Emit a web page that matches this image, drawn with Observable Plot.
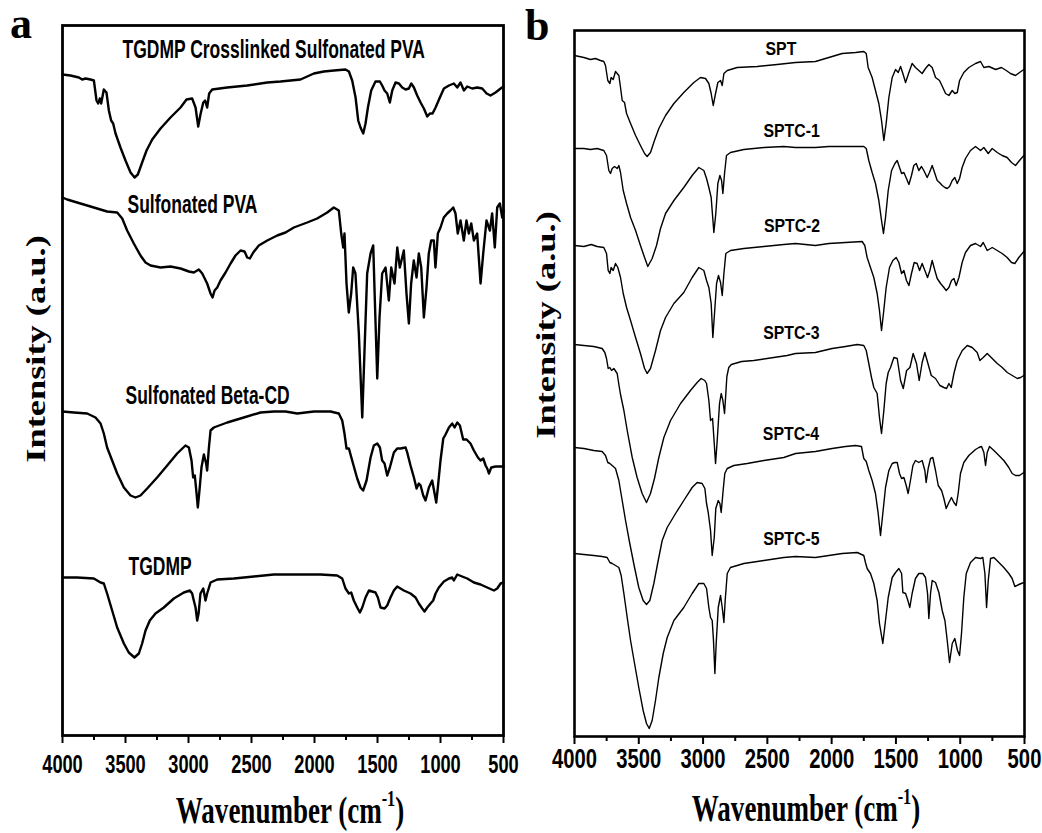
<!DOCTYPE html>
<html>
<head>
<meta charset="utf-8">
<script src="https://cdn.jsdelivr.net/npm/d3@7"></script>
<script src="https://cdn.jsdelivr.net/npm/@observablehq/plot@0.6"></script>
<style>
  html, body { margin: 0; padding: 0; background: #fff; }
  #wrap { position: relative; width: 1042px; height: 833px; overflow: hidden; background: #fff; }
  .panel { position: absolute; top: 0; }
  .serif { position: absolute; font-family: "Liberation Serif", "Times New Roman", Times, serif; font-weight: bold; color: #000; line-height: 1.1; white-space: nowrap; }
  .letter { font-size: 44px; }
  .ytitle { font-size: 28px; transform: translate(-50%, -50%) rotate(-90deg) scaleX(1.3); }
  .xtitle { font-size: 37px; transform: translateX(-50%) scaleX(0.73); }
  .xtitle sup { font-size: 0.6em; vertical-align: 0; position: relative; top: -0.75em; line-height: 0; }
</style>
</head>
<body>
<div id="wrap">
  <div class="panel" id="panelA" style="left:0px"></div>
  <div class="panel" id="panelB" style="left:520px"></div>
  <div class="serif letter" style="left:10px; top:0px">a</div>
  <div class="serif letter" style="left:525px; top:2px">b</div>
  <div class="serif ytitle" style="left:36px; top:349px">Intensity (a.u.)</div>
  <div class="serif ytitle" style="left:546px; top:325px">Intensity (a.u.)</div>
  <div class="serif xtitle" style="left:290px; top:791px">Wavenumber (cm<sup>-1</sup>)</div>
  <div class="serif xtitle" style="left:806px; top:789px">Wavenumber (cm<sup>-1</sup>)</div>
</div>
<script>
// ---------- Axis ticks (cm^-1) ----------
const majorTicks = [4000, 3500, 3000, 2500, 2000, 1500, 1000, 500];
const minorTicks = [3750, 3250, 2750, 2250, 1750, 1250, 750];

// ---------- Panel a spectra: [wavenumber, intensity (a.u., stacked)] ----------
const crosslinkedSPVA = [[4000,66.1],[3937,66.0],[3870,65.8],[3844,65.6],[3817,65.7],[3778,65.6],[3751,65.5],[3730,63.5],[3717,63.2],[3704,63.7],[3693,63.2],[3672,64.6],[3651,64.3],[3632,62.5],[3614,61.5],[3598,61.2],[3579,60.2],[3540,58.8],[3500,57.5],[3460,56.3],[3428,55.8],[3402,56.1],[3368,57.3],[3333,58.5],[3288,59.6],[3222,60.7],[3143,61.8],[3063,62.8],[3016,63.6],[2971,63.7],[2944,62.8],[2923,60.9],[2905,62.1],[2883,63.3],[2868,63.5],[2852,62.8],[2836,64.2],[2812,64.6],[2693,64.8],[2534,65.0],[2375,65.3],[2270,65.4],[2111,65.6],[2005,66.2],[1926,66.4],[1846,66.5],[1754,66.6],[1727,66.4],[1701,65.5],[1674,63.8],[1653,61.5],[1635,60.8],[1613,60.2],[1595,61.2],[1576,62.8],[1550,64.5],[1516,65.4],[1481,65.4],[1463,65.0],[1444,64.5],[1423,64.2],[1402,63.3],[1383,64.5],[1357,65.3],[1330,65.2],[1304,64.8],[1277,64.6],[1251,64.7],[1232,65.2],[1211,64.8],[1185,64.0],[1158,63.3],[1132,62.7],[1105,61.9],[1084,62.2],[1063,62.2],[1039,62.8],[1005,63.8],[973,64.7],[933,65.0],[894,65.2],[867,64.8],[841,65.3],[814,64.5],[788,64.9],[748,64.7],[709,64.8],[669,64.7],[634,64.2],[603,64.0],[563,64.3],[523,64.7],[500,64.9]];

const sulfonatedPVA = [[4000,53.8],[3963,53.6],[3884,53.3],[3804,53.0],[3725,52.7],[3646,52.4],[3566,52.3],[3526,51.7],[3487,50.5],[3434,49.2],[3381,48.0],[3341,47.3],[3301,47.0],[3222,46.8],[3143,46.9],[3063,46.7],[2997,46.4],[2958,46.3],[2918,46.6],[2891,46.2],[2852,45.2],[2825,44.2],[2809,43.8],[2793,44.5],[2772,44.8],[2746,45.5],[2706,46.3],[2666,47.2],[2627,48.0],[2587,48.5],[2555,48.4],[2534,47.8],[2513,47.7],[2486,48.3],[2442,49.0],[2375,49.5],[2296,50.0],[2230,50.3],[2164,50.8],[2058,51.3],[1979,51.7],[1939,52.0],[1899,52.3],[1847,52.8],[1807,52.5],[1788,50.2],[1772,48.8],[1762,50.2],[1746,45.2],[1728,42.3],[1709,44.2],[1693,46.8],[1675,46.2],[1648,40.2],[1621,31.8],[1603,38.5],[1582,46.2],[1555,48.2],[1534,49.0],[1521,43.5],[1502,35.7],[1484,41.8],[1463,46.2],[1436,46.8],[1410,43.5],[1391,46.8],[1365,45.2],[1343,48.8],[1323,46.8],[1291,48.5],[1270,44.2],[1251,41.2],[1233,45.2],[1212,47.5],[1190,45.8],[1172,48.2],[1153,46.8],[1132,41.8],[1111,44.8],[1093,48.2],[1074,49.5],[1053,49.5],[1040,46.8],[1021,50.2],[1000,50.8],[974,51.8],[947,52.2],[921,52.5],[899,52.8],[881,52.2],[863,50.2],[841,51.5],[815,49.5],[794,51.5],[775,50.2],[756,51.2],[735,49.5],[709,50.2],[682,45.2],[661,48.2],[635,51.5],[608,50.5],[590,52.2],[569,48.8],[550,52.8],[529,53.2],[510,51.8],[500,52.5]];

const sulfonatedBetaCD = [[4000,32.4],[3910,32.3],[3804,32.2],[3738,31.8],[3698,31.2],[3672,30.2],[3646,28.8],[3606,27.5],[3566,26.2],[3513,24.8],[3460,24.0],[3421,23.8],[3381,24.0],[3328,24.7],[3249,25.8],[3169,27.0],[3090,28.2],[3024,29.0],[2997,28.8],[2976,27.5],[2963,25.8],[2950,26.0],[2936,24.2],[2926,22.8],[2913,24.5],[2897,26.8],[2878,28.1],[2860,27.2],[2852,26.5],[2838,28.8],[2825,30.5],[2799,30.8],[2693,31.3],[2561,31.8],[2428,32.3],[2323,32.4],[2230,32.4],[2137,32.2],[2005,32.4],[1873,32.4],[1807,32.2],[1780,31.5],[1762,30.2],[1746,28.7],[1727,28.7],[1701,27.5],[1661,25.7],[1635,24.8],[1614,24.5],[1587,25.5],[1555,27.8],[1529,29.0],[1502,29.2],[1481,28.8],[1463,27.5],[1444,27.2],[1423,26.0],[1402,26.8],[1370,28.3],[1344,28.7],[1317,28.7],[1277,28.8],[1264,28.3],[1238,27.0],[1211,25.8],[1190,24.7],[1172,25.2],[1158,25.0],[1137,24.0],[1119,23.5],[1092,24.8],[1066,25.5],[1047,24.2],[1034,23.3],[1021,24.8],[1000,27.5],[978,29.7],[960,30.1],[933,30.8],[907,31.2],[888,30.8],[867,31.3],[846,31.0],[820,29.6],[793,29.6],[762,29.2],[735,28.5],[703,27.8],[682,27.5],[661,27.7],[642,27.0],[629,26.7],[616,26.2],[597,26.8],[563,26.9],[500,26.9]];

const tgdmp = [[4000,15.8],[3884,15.8],[3751,15.7],[3698,15.3],[3672,15.2],[3646,14.2],[3606,12.5],[3566,10.8],[3513,9.2],[3474,8.3],[3429,7.8],[3394,8.2],[3368,9.2],[3341,10.5],[3307,11.5],[3262,12.2],[3196,12.8],[3116,13.7],[3037,14.3],[2989,14.5],[2971,14.2],[2958,13.5],[2944,12.8],[2931,11.5],[2920,12.2],[2905,14.2],[2883,14.7],[2865,13.5],[2852,14.2],[2825,15.3],[2772,15.6],[2640,15.7],[2481,15.9],[2323,16.1],[2230,16.1],[2111,16.1],[1952,16.1],[1820,16.0],[1780,15.7],[1754,14.7],[1727,14.2],[1709,14.3],[1688,13.5],[1661,12.8],[1640,12.3],[1621,12.8],[1595,13.8],[1568,14.5],[1542,14.4],[1516,14.3],[1497,13.8],[1476,12.8],[1444,12.7],[1423,13.0],[1397,13.8],[1370,14.5],[1344,14.9],[1291,14.5],[1238,14.2],[1198,13.8],[1172,13.2],[1145,12.7],[1127,12.4],[1105,12.8],[1079,13.2],[1058,13.5],[1039,14.2],[1013,14.8],[973,15.4],[933,15.7],[907,15.8],[894,15.5],[867,16.1],[828,15.9],[788,15.7],[735,15.3],[682,15.1],[629,14.8],[576,14.5],[550,14.7],[523,15.2],[500,15.3]];

const labelsA = ["TGDMP Crosslinked Sulfonated PVA", "Sulfonated PVA", "Sulfonated Beta-CD", "TGDMP"];
const labelXA = [3524, 3484, 3500, 3476];
const labelYA = [68.6, 53.1, 34.0, 16.9];

// ---------- Panel b spectra ----------
const spt = [[4000,68.1],[3927,67.9],[3876,67.7],[3837,67.8],[3798,67.6],[3772,67.5],[3759,67.1],[3741,65.6],[3725,65.3],[3715,65.9],[3699,65.7],[3681,66.5],[3655,66.1],[3642,64.9],[3629,63.6],[3611,63.4],[3595,62.3],[3564,61.3],[3525,60.1],[3487,59.1],[3455,58.3],[3435,58.0],[3409,58.4],[3378,59.6],[3344,60.8],[3292,62.1],[3227,63.3],[3150,64.4],[3072,65.4],[3020,65.9],[2981,65.8],[2955,65.3],[2937,64.3],[2921,63.1],[2906,64.1],[2885,65.4],[2864,65.6],[2851,65.1],[2838,66.3],[2812,66.6],[2735,66.9],[2579,67.0],[2424,67.2],[2281,67.4],[2126,67.5],[2022,67.9],[1918,68.3],[1814,68.4],[1750,68.5],[1731,68.3],[1716,66.9],[1685,65.9],[1659,64.6],[1633,63.3],[1612,61.6],[1594,59.6],[1576,61.3],[1555,63.9],[1529,65.9],[1503,66.7],[1482,66.4],[1464,67.0],[1446,66.3],[1425,65.4],[1399,66.4],[1374,67.3],[1348,66.9],[1322,66.6],[1296,66.3],[1270,66.8],[1244,67.2],[1218,66.9],[1192,65.9],[1161,65.6],[1135,64.9],[1114,64.3],[1088,64.1],[1062,64.6],[1042,64.3],[1023,64.4],[1005,65.6],[972,66.4],[933,66.9],[881,67.3],[842,67.5],[816,66.9],[777,67.0],[725,66.7],[679,66.9],[642,66.6],[609,66.3],[570,66.1],[539,66.4],[505,66.7],[500,66.8]];

const sptc1 = [[4000,58.8],[3927,58.8],[3876,58.7],[3824,58.8],[3772,58.6],[3751,58.1],[3733,56.6],[3720,56.3],[3707,56.8],[3689,57.0],[3668,56.8],[3655,57.1],[3642,56.4],[3621,54.6],[3595,53.3],[3564,51.9],[3525,50.6],[3487,49.1],[3455,47.9],[3430,47.0],[3396,47.8],[3362,49.1],[3331,50.8],[3292,52.3],[3227,53.6],[3150,54.9],[3085,56.1],[3033,56.9],[2994,56.6],[2973,55.8],[2955,54.9],[2937,53.9],[2916,50.4],[2901,52.3],[2885,55.3],[2869,56.1],[2856,55.6],[2846,54.3],[2833,56.3],[2818,58.1],[2787,58.4],[2683,58.7],[2527,58.9],[2372,59.0],[2281,58.9],[2126,58.9],[2022,59.0],[1892,59.0],[1750,59.0],[1731,58.8],[1711,57.6],[1685,56.4],[1659,55.3],[1633,53.6],[1612,51.6],[1597,50.3],[1581,51.9],[1560,54.6],[1534,56.6],[1508,57.3],[1490,57.6],[1472,56.9],[1456,56.3],[1438,56.4],[1418,55.8],[1399,55.2],[1379,56.1],[1361,57.1],[1342,57.3],[1322,56.6],[1301,57.0],[1283,56.6],[1257,55.9],[1239,56.4],[1218,57.1],[1197,56.3],[1179,55.6],[1161,55.4],[1140,55.1],[1119,54.9],[1101,54.8],[1083,55.0],[1062,55.6],[1042,55.9],[1023,55.3],[1005,55.8],[985,56.9],[959,57.8],[920,58.6],[881,59.0],[842,58.6],[816,58.9],[782,58.3],[751,58.8],[712,58.4],[674,58.1],[635,57.9],[601,57.4],[570,57.1],[539,57.6],[505,58.1],[500,58.2]];

const sptc2 = [[4000,49.1],[3927,49.0],[3870,49.2],[3824,49.0],[3772,48.9],[3751,48.3],[3738,46.6],[3725,46.3],[3715,46.9],[3699,46.6],[3681,47.3],[3663,46.9],[3642,45.9],[3621,44.3],[3595,42.9],[3564,41.6],[3525,39.9],[3487,38.3],[3455,36.8],[3435,36.3],[3409,36.8],[3370,38.6],[3331,40.6],[3292,41.9],[3227,43.3],[3150,44.4],[3085,45.9],[3033,46.9],[2994,46.6],[2973,45.6],[2955,44.9],[2937,43.3],[2924,39.9],[2911,42.3],[2895,45.3],[2880,46.1],[2864,45.4],[2851,44.1],[2838,46.3],[2823,48.3],[2787,48.6],[2683,48.8],[2527,49.0],[2372,49.2],[2281,49.3],[2126,49.1],[2022,49.3],[1892,49.4],[1763,49.5],[1742,49.1],[1724,47.9],[1698,46.9],[1672,45.9],[1646,44.3],[1628,42.6],[1612,40.6],[1597,42.3],[1576,44.9],[1550,46.9],[1524,47.6],[1498,47.9],[1477,47.4],[1456,46.3],[1438,46.6],[1418,45.6],[1399,45.1],[1379,46.3],[1358,47.4],[1335,47.3],[1316,46.6],[1296,47.3],[1275,46.6],[1254,45.9],[1236,46.6],[1218,47.6],[1197,46.6],[1179,45.8],[1153,45.3],[1127,44.9],[1109,44.6],[1088,44.9],[1068,45.6],[1049,45.8],[1031,45.1],[1010,45.9],[985,47.4],[959,48.4],[920,49.1],[881,49.3],[842,49.0],[821,49.4],[790,48.6],[751,48.9],[712,48.6],[674,48.3],[635,47.9],[601,47.4],[575,47.3],[544,47.9],[505,48.5],[500,48.6]];

const sptc3 = [[4000,39.2],[3927,39.1],[3850,39.0],[3785,38.8],[3764,38.4],[3751,37.8],[3738,36.8],[3725,36.9],[3712,36.6],[3694,36.8],[3668,36.3],[3655,35.2],[3642,34.2],[3616,32.6],[3590,30.6],[3551,27.9],[3513,25.9],[3474,24.3],[3440,23.4],[3409,24.3],[3378,25.8],[3344,27.9],[3305,29.9],[3253,31.6],[3175,33.3],[3098,34.6],[3046,35.4],[3015,35.8],[2987,35.6],[2973,35.3],[2955,33.6],[2942,31.6],[2926,31.8],[2913,29.3],[2903,27.3],[2890,29.6],[2872,33.3],[2859,34.3],[2846,33.6],[2833,32.3],[2823,34.3],[2815,36.0],[2800,36.9],[2780,37.2],[2700,37.5],[2605,37.6],[2450,37.9],[2346,38.1],[2281,38.3],[2126,38.4],[1996,38.8],[1892,39.0],[1801,39.2],[1750,39.1],[1731,38.6],[1711,37.3],[1690,35.9],[1672,34.9],[1646,34.3],[1628,31.9],[1612,30.3],[1594,32.6],[1576,35.3],[1560,36.4],[1542,36.9],[1516,37.9],[1490,37.8],[1464,35.6],[1443,34.8],[1417,36.6],[1391,36.9],[1366,38.3],[1340,37.3],[1319,35.6],[1296,37.4],[1275,38.4],[1251,37.3],[1225,36.1],[1192,35.8],[1158,35.1],[1127,34.9],[1106,34.8],[1088,35.3],[1070,34.9],[1049,36.3],[1023,37.6],[984,38.6],[945,39.1],[907,38.9],[868,38.4],[847,37.6],[821,37.9],[790,38.3],[751,37.8],[712,37.3],[673,36.9],[634,36.4],[595,36.1],[556,35.8],[530,35.9],[505,36.1],[500,36.1]];

const sptc4 = [[4000,28.9],[3927,28.8],[3850,28.6],[3785,28.5],[3759,28.1],[3741,27.4],[3725,27.3],[3707,27.1],[3681,26.8],[3655,25.6],[3629,23.6],[3603,21.6],[3570,19.3],[3533,16.9],[3500,14.9],[3466,13.6],[3440,13.2],[3414,13.6],[3383,15.3],[3352,17.4],[3318,19.6],[3279,20.9],[3214,22.3],[3150,23.6],[3085,24.9],[3046,25.4],[3007,25.3],[2986,24.8],[2973,23.3],[2960,22.4],[2942,20.6],[2929,18.1],[2913,19.9],[2901,22.8],[2882,23.6],[2869,23.3],[2859,22.4],[2844,24.6],[2831,26.3],[2812,26.8],[2761,27.1],[2657,27.3],[2527,27.6],[2372,27.9],[2281,28.3],[2126,28.5],[1996,28.8],[1892,29.0],[1814,29.1],[1768,29.0],[1750,27.8],[1731,27.5],[1711,26.6],[1685,25.6],[1659,24.3],[1638,22.3],[1620,20.1],[1602,22.3],[1581,24.9],[1555,26.6],[1529,27.3],[1508,27.4],[1490,27.4],[1472,26.3],[1456,25.8],[1438,25.9],[1420,25.1],[1405,24.3],[1387,25.6],[1368,27.1],[1348,27.6],[1322,27.4],[1296,27.6],[1275,26.6],[1265,25.4],[1249,26.8],[1231,27.8],[1213,27.9],[1192,26.6],[1171,25.1],[1145,24.6],[1127,23.8],[1109,22.8],[1088,23.4],[1068,23.9],[1049,23.4],[1031,23.1],[1016,24.3],[998,26.3],[972,27.4],[933,28.1],[881,28.7],[855,28.9],[834,29.0],[816,28.4],[803,27.1],[790,28.4],[772,29.0],[738,28.6],[699,28.1],[661,27.6],[622,26.9],[596,26.3],[570,26.1],[539,26.1],[505,26.4],[500,26.5]];

const sptc5 = [[4000,18.3],[3927,18.2],[3850,18.1],[3785,18.0],[3746,17.9],[3725,17.4],[3707,17.3],[3681,17.1],[3655,16.9],[3637,16.1],[3616,14.3],[3590,11.9],[3564,9.6],[3533,7.3],[3500,4.9],[3466,2.6],[3440,1.3],[3419,0.8],[3396,1.6],[3370,3.6],[3344,5.9],[3310,8.3],[3279,9.9],[3227,11.6],[3150,12.9],[3085,14.3],[3033,15.3],[2994,15.3],[2973,14.8],[2955,12.9],[2942,11.9],[2929,11.6],[2919,9.6],[2908,6.3],[2898,9.3],[2882,12.9],[2864,14.1],[2851,12.9],[2838,11.4],[2828,13.6],[2812,16.3],[2787,16.9],[2683,17.3],[2527,17.6],[2372,17.9],[2281,18.0],[2126,17.9],[2022,18.1],[1918,18.3],[1801,18.4],[1750,18.1],[1737,17.4],[1724,16.8],[1698,16.3],[1672,15.3],[1646,13.6],[1628,11.3],[1602,9.3],[1581,11.6],[1560,13.9],[1529,15.9],[1503,16.4],[1477,16.8],[1456,16.3],[1446,14.4],[1425,14.3],[1407,13.6],[1392,12.9],[1374,14.3],[1348,15.8],[1322,16.3],[1291,16.3],[1270,15.9],[1254,14.3],[1244,11.8],[1231,14.3],[1218,15.6],[1192,15.4],[1166,14.4],[1140,12.6],[1119,11.6],[1101,9.6],[1083,7.4],[1062,9.3],[1042,9.8],[1021,8.6],[1005,8.1],[990,10.3],[972,13.9],[953,16.3],[920,17.4],[881,17.9],[842,17.8],[824,17.9],[808,16.3],[795,12.9],[782,15.6],[764,17.8],[738,17.9],[699,17.4],[661,16.9],[622,16.3],[596,15.8],[575,15.0],[544,15.2],[505,15.4],[500,15.4]];

const labelsB = ["SPT", "SPTC-1", "SPTC-2", "SPTC-3", "SPTC-4", "SPTC-5"];
const labelXB = [2514, 2530, 2527, 2532, 2535, 2532];
const labelYB = [68.7, 60.5, 51.0, 40.3, 30.2, 19.7];

// ---------- Helpers ----------
const toRows = (name, arr) => arr.map(([w, v]) => ({name, w, v}));

function squeeze(svg, selector, sx) {
  svg.querySelectorAll(selector).forEach(t => {
    const tr = t.getAttribute("transform");
    if (tr) {
      t.setAttribute("transform", tr + ` scale(${sx},1)`);
    } else {
      const x = +(t.getAttribute("x") || 0), y = +(t.getAttribute("y") || 0);
      t.removeAttribute("x"); t.removeAttribute("y");
      t.setAttribute("transform", `translate(${x},${y}) scale(${sx},1)`);
    }
  });
}

function panel({spectra, labels, lx, ly, width, height, ml, mr, mt, mb, ymax, lineWidth, tickFont, tickPad, labelFont, frameWidth}) {
  const labelRows = labels.map((t, i) => ({t, w: lx[i], v: ly[i]}));
  return Plot.plot({
    width, height,
    marginLeft: ml, marginRight: mr, marginTop: mt, marginBottom: mb,
    style: {background: "transparent", fontFamily: "'Liberation Sans', Arial, Helvetica, sans-serif", fontWeight: "bold", fontSize: tickFont + "px", color: "black"},
    x: {domain: [4000, 500]},
    y: {domain: [0, ymax], axis: null},
    marks: [
      Plot.axisX(majorTicks, {tickSize: 8, tickPadding: tickPad, strokeWidth: 2, label: null, tickFormat: d => String(d)}),
      Plot.axisX(minorTicks, {tickSize: 5, strokeWidth: 2, label: null, tickFormat: () => ""}),
      ...spectra.map(s => Plot.line(s, {x: "w", y: "v", stroke: "black", strokeWidth: lineWidth, strokeLinejoin: "round"})),
      Plot.text(labelRows, {x: "w", y: "v", text: "t", textAnchor: "start", lineAnchor: "middle", fontSize: labelFont, fontWeight: "bold", fill: "black"}),
      Plot.frame({stroke: "black", strokeWidth: frameWidth})
    ]
  });
}

const svgA = panel({
  spectra: [toRows("a1", crosslinkedSPVA), toRows("a2", sulfonatedPVA), toRows("a3", sulfonatedBetaCD), toRows("a4", tgdmp)],
  labels: labelsA, lx: labelXA, ly: labelYA,
  width: 520, height: 780, ml: 62, mr: 17, mt: 25, mb: 45, ymax: 71,
  lineWidth: 2.4, tickFont: 26, tickPad: 11, labelFont: 25, frameWidth: 2.8
});
squeeze(svgA, 'g[aria-label="text"] text', 0.7);
squeeze(svgA, 'g[aria-label="x-axis tick label"] text', 0.7);
document.getElementById("panelA").appendChild(svgA);

const svgB = panel({
  spectra: [toRows("b1", spt), toRows("b2", sptc1), toRows("b3", sptc2), toRows("b4", sptc3), toRows("b5", sptc4), toRows("b6", sptc5)],
  labels: labelsB, lx: labelXB, ly: labelYB,
  width: 522, height: 780, ml: 54, mr: 18, mt: 30, mb: 44, ymax: 70.6,
  lineWidth: 1.4, tickFont: 27, tickPad: 4, labelFont: 18, frameWidth: 2.6
});
squeeze(svgB, 'g[aria-label="text"] text', 0.88);
squeeze(svgB, 'g[aria-label="x-axis tick label"] text', 0.75);
document.getElementById("panelB").appendChild(svgB);
</script>
</body>
</html>
